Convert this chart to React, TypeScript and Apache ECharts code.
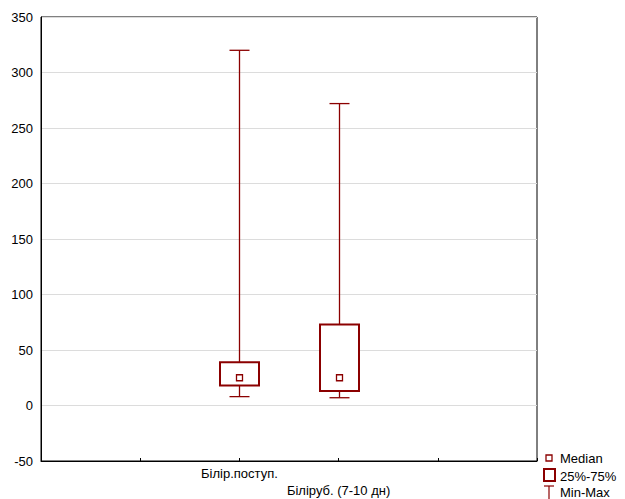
import React, { useEffect, useRef } from "react";
import * as echarts from "echarts";

const categories = ["Білір.поступ.", "Білір\u0443б. (7-10 дн)"];
const minValues = [8, 7];
const q1Values = [18, 13];
const medianValues = [25, 25];
const q3Values = [39, 73];
const maxValues = [320, 272];
const yTicks = [-50, 0, 50, 100, 150, 200, 250, 300, 350];

const COLOR = "#8b0000";
const FONT = "Arial, 'Liberation Sans', sans-serif";

export default function App() {
  const ref = useRef<HTMLDivElement>(null);
  useEffect(() => {
    if (!ref.current) return;
    const chart = echarts.init(ref.current, null, { renderer: "svg" });
    const data = categories.map((_, i) => [
      i + 2,
      minValues[i],
      q1Values[i],
      medianValues[i],
      q3Values[i],
      maxValues[i],
    ]);
    chart.setOption({
      animation: false,
      grid: {
        left: 41,
        right: 88,
        top: 17,
        bottom: 38,
        outerBoundsMode: "none",
        containLabel: false,
        show: true,
        borderColor: "#000",
        borderWidth: 1,
        backgroundColor: "#fff",
      },
      xAxis: {
        type: "value",
        min: 0,
        max: 5,
        interval: 1,
        axisLine: { show: true, onZero: false, lineStyle: { color: "#000" } },
        axisTick: { show: true, inside: true, length: 3, lineStyle: { color: "#000" } },
        splitLine: { show: false },
        axisLabel: {
          fontFamily: FONT,
          fontSize: 13,
          color: "#000",
          margin: 4,
          lineHeight: 17,
          formatter: (v: number) => {
            const idx = Math.round(v) - 2;
            if (idx < 0 || idx >= categories.length) return "";
            return idx % 2 === 1 ? "\n" + categories[idx] : categories[idx];
          },
        },
      },
      yAxis: {
        type: "value",
        min: yTicks[0],
        max: yTicks[yTicks.length - 1],
        interval: 50,
        axisLine: { show: true, onZero: false, lineStyle: { color: "#000" } },
        axisTick: { show: false },
        splitLine: { show: true, lineStyle: { color: "#dcdcdc", width: 1 } },
        axisLabel: { fontFamily: FONT, fontSize: 13, color: "#000", margin: 8 },
      },
      series: [
        {
          type: "custom",
          data,
          encode: { x: 0, y: [1, 2, 3, 4, 5] },
          renderItem: (params: any, api: any) => {
            const x = api.value(0);
            const pMin = api.coord([x, api.value(1)]);
            const pQ1 = api.coord([x, api.value(2)]);
            const pMed = api.coord([x, api.value(3)]);
            const pQ3 = api.coord([x, api.value(4)]);
            const pMax = api.coord([x, api.value(5)]);
            const cx = Math.round(pMin[0]) + 0.5;
            const halfBox = 19.5;
            const halfCap = 10;
            const m = 3;
            return {
              type: "group",
              children: [
                { type: "line", shape: { x1: cx, y1: pMax[1], x2: cx, y2: pQ3[1] }, style: { stroke: COLOR, lineWidth: 1.3 } },
                { type: "line", shape: { x1: cx, y1: pQ1[1], x2: cx, y2: pMin[1] }, style: { stroke: COLOR, lineWidth: 1.3 } },
                { type: "line", shape: { x1: cx - halfCap, y1: pMax[1], x2: cx + halfCap, y2: pMax[1] }, style: { stroke: COLOR, lineWidth: 1.3 } },
                { type: "line", shape: { x1: cx - halfCap, y1: pMin[1], x2: cx + halfCap, y2: pMin[1] }, style: { stroke: COLOR, lineWidth: 1.3 } },
                {
                  type: "rect",
                  shape: { x: cx - halfBox, y: pQ3[1], width: halfBox * 2, height: pQ1[1] - pQ3[1] },
                  style: { stroke: COLOR, fill: "#fff", lineWidth: 2 },
                },
                {
                  type: "rect",
                  shape: { x: cx - m, y: pMed[1] - m, width: m * 2, height: m * 2 },
                  style: { stroke: COLOR, fill: "#fff", lineWidth: 1.3 },
                },
              ],
            };
          },
        },
      ],
      graphic: [
        { type: "rect", shape: { x: 546, y: 455, width: 6, height: 6 }, style: { stroke: COLOR, fill: "#fff", lineWidth: 1.3 } },
        { type: "text", x: 560, y: 458, style: { text: "Median", fontFamily: FONT, fontSize: 13, fill: "#000", verticalAlign: "middle" } },
        { type: "rect", shape: { x: 544, y: 469, width: 11, height: 12 }, style: { stroke: COLOR, fill: "#fff", lineWidth: 2 } },
        { type: "text", x: 560, y: 476, style: { text: "25%-75%", fontFamily: FONT, fontSize: 13, fill: "#000", verticalAlign: "middle" } },
        { type: "line", shape: { x1: 544, y1: 486, x2: 554, y2: 486 }, style: { stroke: COLOR, lineWidth: 1.2 } },
        { type: "line", shape: { x1: 549, y1: 486, x2: 549, y2: 499 }, style: { stroke: COLOR, lineWidth: 1.2 } },
        { type: "text", x: 560, y: 492, style: { text: "Min-Max", fontFamily: FONT, fontSize: 13, fill: "#000", verticalAlign: "middle" } },
      ],
    });
    return () => chart.dispose();
  }, []);
  return <div ref={ref} style={{ width: 625, height: 499, position: "absolute", left: 0, top: 0, background: "#fff" }} />;
}
